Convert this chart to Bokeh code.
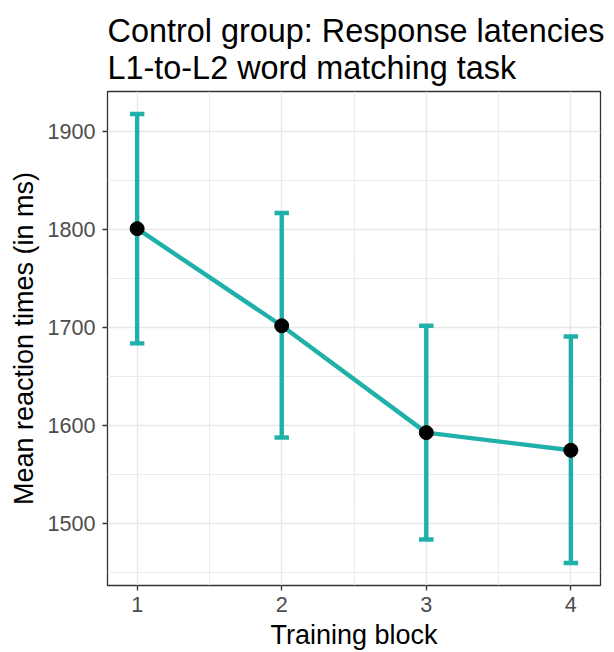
from bokeh.plotting import figure
from bokeh.models import FixedTicker, Range1d, ColumnDataSource
from bokeh.embed import file_html
from bokeh.resources import INLINE

# Mean response latencies per training block with error-bar bounds
blocks = [1, 2, 3, 4]
mean_rt = [1801, 1702, 1593, 1575]
rt_low = [1684, 1588, 1484, 1460]
rt_high = [1918, 1817, 1702, 1691]
y_ticks = [1500, 1600, 1700, 1800, 1900]

TEAL = "#20B0AA"
FONT = "Liberation Sans"
cap_half = 0.05

src = ColumnDataSource(dict(
    x=blocks, y=mean_rt, lo=rt_low, hi=rt_high,
    xl=[b - cap_half for b in blocks], xr=[b + cap_half for b in blocks],
))

p = figure(
    width=614, height=652, output_backend="svg", toolbar_location=None,
    x_range=Range1d(0.795, 4.205), y_range=Range1d(1437.1, 1940.9),
    min_border_left=107, min_border_right=14, min_border_top=91, min_border_bottom=67,
    title="Control group: Response latencies\nL1-to-L2 word matching task",
)
p.background_fill_color = "white"
p.border_fill_color = "white"
p.outline_line_color = "#333333"
p.outline_line_width = 1.3

p.title.text_font = FONT
p.title.text_font_size = "32.4px"
p.title.text_font_style = "normal"
p.title.text_color = "black"
p.title.align = "left"
p.title.standoff = 10
p.title.text_line_height = 1.05

# Ticks and grids
p.xaxis.ticker = FixedTicker(ticks=blocks, minor_ticks=[1.5, 2.5, 3.5])
p.yaxis.ticker = FixedTicker(ticks=y_ticks, minor_ticks=[1450, 1550, 1650, 1750, 1850, 1950])

for ax in (p.xaxis[0], p.yaxis[0]):
    ax.axis_line_color = None
    ax.major_tick_line_color = "#333333"
    ax.major_tick_line_width = 1.3
    ax.major_tick_out = 5
    ax.major_tick_in = 0
    ax.minor_tick_line_color = None
    ax.major_label_text_font = FONT
    ax.major_label_text_font_size = "21.6px"
    ax.major_label_text_color = "#4D4D4D"
    ax.axis_label_text_font = FONT
    ax.axis_label_text_font_size = "27px"
    ax.axis_label_text_font_style = "normal"
    ax.axis_label_text_color = "black"

p.xaxis.axis_label = "Training block"
p.yaxis.axis_label = "Mean reaction times (in ms)"
p.xaxis.major_label_standoff = 6
p.xaxis.axis_label_standoff = 5
p.yaxis.major_label_standoff = 7
p.yaxis.axis_label_standoff = 5

for g in (p.xgrid[0], p.ygrid[0]):
    g.grid_line_color = "#E8E8E8"
    g.grid_line_width = 1.5
    g.minor_grid_line_color = "#EBEBEB"
    g.minor_grid_line_width = 1.1

# Error bars: vertical stems plus caps
p.segment(x0="x", y0="lo", x1="x", y1="hi", source=src, line_color=TEAL, line_width=4.4)
p.segment(x0="xl", y0="lo", x1="xr", y1="lo", source=src, line_color=TEAL, line_width=4.4)
p.segment(x0="xl", y0="hi", x1="xr", y1="hi", source=src, line_color=TEAL, line_width=4.4)

# Connecting line and mean points
p.line(x="x", y="y", source=src, line_color=TEAL, line_width=4.4)
p.scatter(x="x", y="y", source=src, size=14, fill_color="black", line_color="black")

open("out.html", "w").write(file_html(p, INLINE))
